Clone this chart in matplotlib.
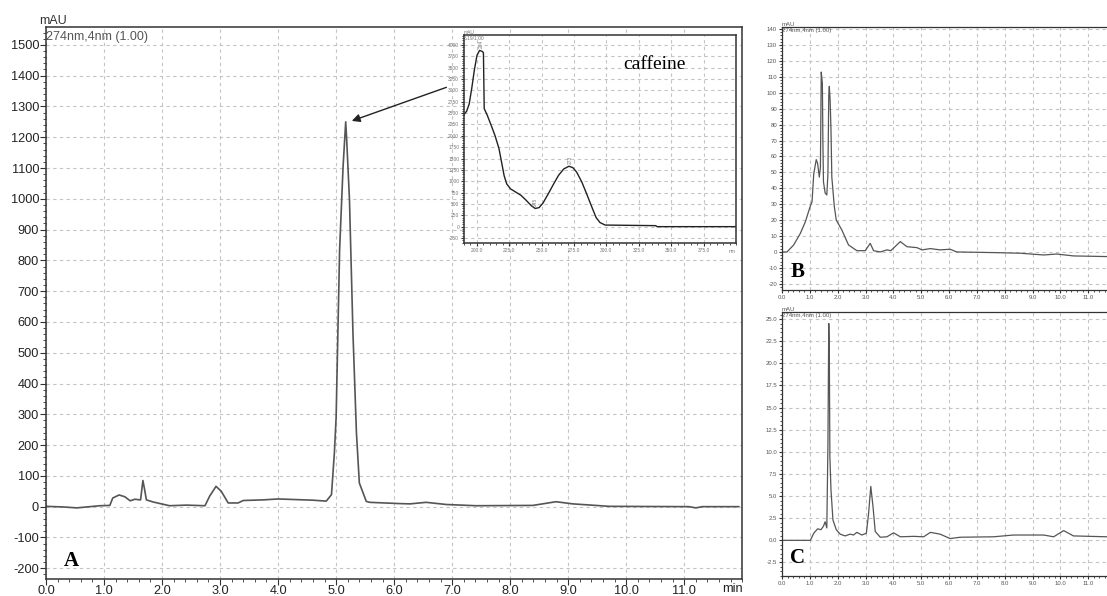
import numpy as np
import matplotlib
matplotlib.use("Agg")
import matplotlib.pyplot as plt
from matplotlib.ticker import MultipleLocator, FormatStrFormatter

plt.rcParams['font.family'] = ['Liberation Sans', 'DejaVu Sans']
plt.rcParams['axes.unicode_minus'] = False

# ---------------- data ----------------
# Panel A: standard chromatogram (time min, mAU)
a_time = [0.0, 0.30, 0.53, 0.93, 1.10, 1.15, 1.26, 1.36, 1.45, 1.53, 1.63, 1.67, 1.70, 1.73,
          1.85, 2.13, 2.42, 2.74, 2.82, 2.93, 3.02, 3.14, 3.31, 3.40, 3.74, 4.00, 4.60, 4.83,
          4.92, 4.97, 5.00, 5.06, 5.12, 5.165, 5.18, 5.23, 5.29, 5.35, 5.40, 5.52, 5.58, 6.09,
          6.27, 6.55, 6.90, 7.41, 8.39, 8.79, 9.08, 9.71, 11.08, 11.20, 11.31, 11.94]
a_mau = [1, -1, -4, 3, 4, 28, 38, 32, 19, 24, 22, 85, 55, 22,
         15, 3, 5, 3, 34, 66, 50, 12, 12, 20, 22, 25, 21, 18,
         39, 175, 290, 834, 1105, 1250, 1200, 997, 564, 240, 77, 17, 14, 10,
         9, 14, 7, 3, 4, 16, 9, 1, 0, -4, 0, 0]

# Inset: UV spectrum of caffeine (nm, mAU)
spec_nm = [190, 192, 194, 196, 198, 200, 202, 204, 205, 205.6, 208, 211, 214, 217, 219, 221,
           223, 226, 230, 234, 238, 242, 245, 248, 251, 255, 259, 263, 267, 271, 274, 277,
           281, 285, 289, 292, 295, 299, 338, 339, 400]
spec_mau = [2470, 2540, 2700, 3050, 3450, 3770, 3880, 3860, 3830, 2600, 2450, 2230, 2000, 1720,
            1420, 1120, 940, 830, 760, 690, 580, 460, 400, 420, 520, 720, 930, 1130, 1270, 1330,
            1300, 1200, 980, 700, 410, 200, 90, 35, 22, 0, 0]
spec_peaks = [("204", 203.0, 3880), ("245", 245.0, 400), ("273", 272.0, 1330)]

# Panel B (time min, mAU)
b_time = [0.0, 0.18, 0.42, 0.66, 0.84, 1.02, 1.08, 1.14, 1.23, 1.28, 1.34, 1.38, 1.41, 1.45,
          1.47, 1.49, 1.55, 1.61, 1.65, 1.68, 1.70, 1.73, 1.76, 1.79, 1.88, 1.95, 2.15, 2.39,
          2.69, 2.99, 3.17, 3.29, 3.53, 3.77, 3.91, 4.25, 4.49, 4.85, 5.03, 5.33, 5.68, 6.04,
          6.28, 7.60, 8.56, 9.40, 9.87, 10.47, 11.67, 12.0]
b_mau = [0, 0, 4.4, 11.7, 19, 29, 31.6, 49, 58, 55.6, 47, 53, 113, 106,
         68, 44, 37, 35.8, 49, 98.5, 104, 95, 76.6, 47, 28.5, 20, 13.8, 4.4,
         0.8, 0.8, 5.4, 0.8, 0, 1.3, 0.8, 6.5, 3.3, 2.7, 1.3, 2.1, 1.3, 1.7,
         0, -0.4, -0.8, -1.9, -1.3, -2.5, -2.9, -2.9]

# Panel C (time min, mAU)
c_time = [0.0, 1.02, 1.14, 1.28, 1.40, 1.49, 1.55, 1.61, 1.65, 1.68, 1.70, 1.72, 1.76, 1.83,
          1.95, 2.09, 2.27, 2.45, 2.57, 2.69, 2.87, 3.03, 3.11, 3.19, 3.27, 3.35, 3.53, 3.77,
          4.01, 4.25, 4.73, 5.09, 5.33, 5.68, 6.04, 6.40, 7.60, 8.32, 9.40, 9.76, 10.12, 10.47,
          11.67, 12.0]
c_mau = [0, 0, 0.8, 1.3, 1.2, 1.6, 2.1, 1.4, 10.8, 24.5, 21.5, 9.5, 5.7, 2.3,
         1.2, 0.7, 0.5, 0.7, 0.6, 0.9, 0.6, 0.8, 3.0, 6.1, 3.8, 1.0, 0.35, 0.4,
         0.85, 0.4, 0.45, 0.4, 0.9, 0.7, 0.2, 0.35, 0.4, 0.6, 0.6, 0.4, 1.1, 0.5,
         0.4, 0.4]

# ---------------- figure ----------------
W, H = 1107, 596
fig = plt.figure(figsize=(W / 100, H / 100), dpi=100)


def ax_px(l, t, r, b):
    return fig.add_axes([l / W, 1 - b / H, (r - l) / W, (b - t) / H])


GRID = dict(color='#c4c4c4', linestyle=(0, (3, 3)), linewidth=0.8)
LINE = '#555555'
SPINE = '#333333'


def style(ax, lw=1.0):
    for s in ax.spines.values():
        s.set_color(SPINE)
        s.set_linewidth(lw)
    ax.tick_params(which='both', direction='out', colors=SPINE, top=False, right=False)
    ax.grid(True, which='major', **GRID)
    ax.set_axisbelow(True)


# ----- Panel A -----
axA = ax_px(46, 27, 742.3, 579)
axA.plot(a_time, a_mau, color=LINE, lw=1.2)
axA.set_xlim(0, 12)
axA.set_ylim(-235, 1558)
axA.xaxis.set_major_locator(MultipleLocator(1))
axA.xaxis.set_minor_locator(MultipleLocator(0.2))
axA.yaxis.set_major_locator(MultipleLocator(100))
axA.yaxis.set_minor_locator(MultipleLocator(20))
axA.set_xticks(np.arange(0, 12, 1.0))
axA.xaxis.set_major_formatter(FormatStrFormatter('%.1f'))
style(axA, 1.1)
axA.tick_params(which='major', length=4, labelsize=9.2, labelcolor='#222222', pad=1)
axA.tick_params(which='minor', length=2.5)
axA.tick_params(axis='x', which='major', pad=0.5)
axA.text(1.0, -0.008, 'min', transform=axA.transAxes, ha='right', va='top',
         fontsize=9.2, color='#222222')
axA.text(-0.01, 1.0, 'mAU', transform=axA.transAxes, ha='left', va='bottom',
         fontsize=9, color='#333333')
axA.text(0.0, 0.993, '274nm,4nm (1.00)', transform=axA.transAxes, ha='left', va='top',
         fontsize=9, color='#555555')
axA.text(0.025, 0.015, 'A', transform=axA.transAxes, ha='left', va='bottom',
         fontsize=15, fontweight='bold', family='Liberation Serif', color='black')
axA.annotate('', xy=(5.27, 1253), xytext=(6.9, 1362),
             arrowprops=dict(arrowstyle='-|>', color='#222222', lw=1.0,
                             mutation_scale=12, shrinkA=0, shrinkB=0))

# ----- Inset: spectrum -----
axI = ax_px(464, 35, 736, 243)
axI.set_facecolor('white')
axI.plot(spec_nm, spec_mau, color='#222222', lw=1.0)
axI.set_xlim(190, 400)
axI.set_ylim(-360, 4220)
axI.xaxis.set_minor_locator(MultipleLocator(5))
axI.yaxis.set_major_locator(MultipleLocator(250))
axI.yaxis.set_minor_locator(MultipleLocator(50))
axI.set_xticks(np.arange(200, 400, 25))
axI.xaxis.set_major_formatter(FormatStrFormatter('%.1f'))
style(axI, 1.1)
axI.tick_params(which='major', length=2.5, labelsize=3.5, labelcolor='#777777', pad=1)
axI.tick_params(which='minor', length=1.2)
axI.text(1.0, -0.03, 'nm', transform=axI.transAxes, ha='right', va='top',
         fontsize=3.5, color='#777777')
axI.text(0.0, 1.0, 'mAU', transform=axI.transAxes, ha='left', va='bottom',
         fontsize=3.5, color='#777777')
axI.text(0.0, 0.995, '5.19/1.00', transform=axI.transAxes, ha='left', va='top',
         fontsize=3.5, color='#777777')
for lab, xn, yn in spec_peaks:
    axI.text(xn, yn + 60, lab, rotation=90, ha='center', va='bottom', fontsize=3.5,
             color='#777777')
axI.text(0.70, 0.86, 'caffeine', transform=axI.transAxes, ha='center', va='center',
         fontsize=14, family='Liberation Serif', color='black')

# ----- Panel B -----
axB = ax_px(782, 27, 1116, 290)
axB.plot(b_time, b_mau, color=LINE, lw=0.9)
axB.set_xlim(0, 12)
axB.set_ylim(-23.9, 141.3)
axB.xaxis.set_minor_locator(MultipleLocator(0.2))
axB.yaxis.set_major_locator(MultipleLocator(10))
axB.yaxis.set_minor_locator(MultipleLocator(2))
axB.set_xticks(np.arange(0, 12, 1.0))
axB.xaxis.set_major_formatter(FormatStrFormatter('%.1f'))
style(axB, 0.9)
axB.tick_params(which='major', length=2.5, labelsize=4.3, labelcolor='#555555', pad=1)
axB.tick_params(which='minor', length=1.2)
axB.text(0.0, 1.0, 'mAU', transform=axB.transAxes, ha='left', va='bottom',
         fontsize=4.3, color='#555555')
axB.text(0.0, 0.995, '274nm,4nm (1.00)', transform=axB.transAxes, ha='left', va='top',
         fontsize=4.3, color='#555555')
axB.text(0.025, 0.03, 'B', transform=axB.transAxes, ha='left', va='bottom',
         fontsize=15, fontweight='bold', family='Liberation Serif', color='black')

# ----- Panel C -----
axC = ax_px(782, 312, 1116, 576)
axC.plot(c_time, c_mau, color=LINE, lw=0.9)
axC.set_xlim(0, 12)
axC.set_ylim(-4.03, 25.8)
axC.xaxis.set_minor_locator(MultipleLocator(0.2))
axC.yaxis.set_major_locator(MultipleLocator(2.5))
axC.yaxis.set_minor_locator(MultipleLocator(0.5))
axC.set_xticks(np.arange(0, 12, 1.0))
axC.xaxis.set_major_formatter(FormatStrFormatter('%.1f'))
axC.yaxis.set_major_formatter(FormatStrFormatter('%.1f'))
style(axC, 0.9)
axC.tick_params(which='major', length=2.5, labelsize=4.3, labelcolor='#555555', pad=1)
axC.tick_params(which='minor', length=1.2)
axC.text(0.0, 1.0, 'mAU', transform=axC.transAxes, ha='left', va='bottom',
         fontsize=4.3, color='#555555')
axC.text(0.0, 0.995, '274nm,4nm (1.00)', transform=axC.transAxes, ha='left', va='top',
         fontsize=4.3, color='#555555')
axC.text(0.025, 0.03, 'C', transform=axC.transAxes, ha='left', va='bottom',
         fontsize=15, fontweight='bold', family='Liberation Serif', color='black')

fig.savefig('out.png', dpi=100)
